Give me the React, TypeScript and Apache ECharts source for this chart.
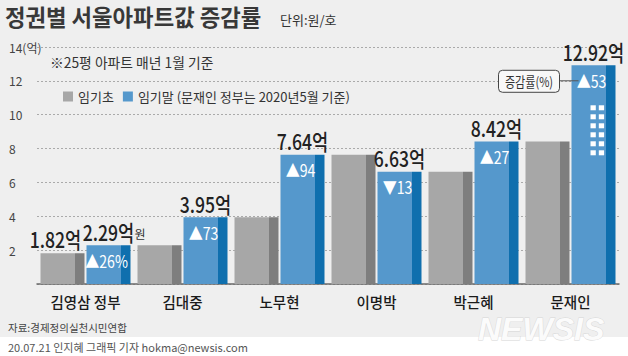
import React, { useEffect, useRef } from "react";
import * as echarts from "echarts";

// ---- data ----
const categories = ["김영삼 정부", "김대중", "노무현", "이명박", "박근혜", "문재인"];
const startName = "임기초";
const endName = "임기말 (문재인 정부는 2020년5월 기준)";
const startValues = [1.82, 2.29, 3.95, 7.64, 6.63, 8.42];
const endValues = [2.29, 3.95, 7.64, 6.63, 8.42, 12.92];
const startValueLabels = ["1.82억", "", "", "", "", ""];
const endValueLabels = ["2.29억", "3.95억", "7.64억", "6.63억", "8.42억", "12.92억"];
const changeLabels = ["▲26%", "▲73", "▲94", "▼13", "▲27", "▲53"];
const yAxisLabels = ["", "2", "4", "6", "8", "10", "12", "14(억)"];

const KR = '"Noto Sans CJK KR", "Noto Sans", sans-serif';
const BAR_W = 44;
const BAR_GAP = 2;
const HALF = (BAR_W + BAR_GAP) / 2;

const grayLight = "#a7a7a7";
const grayDark = "#7e7e7e";
const blueLight = "#5598cc";
const blueDark = "#0f6fae";

function stripe(light: string, dark: string) {
  return new echarts.graphic.LinearGradient(0, 0, 1, 0, [
    { offset: 0, color: light },
    { offset: 0.795, color: light },
    { offset: 0.795, color: dark },
    { offset: 1, color: dark },
  ]);
}

export default function App() {
  const ref = useRef<HTMLDivElement>(null);
  useEffect(() => {
    document.body.style.margin = "0";
    const chart = echarts.init(ref.current!, null, { renderer: "svg" });
    const option: any = {
      animation: false,
      backgroundColor: "#efefef",
      grid: { left: 37, right: 9, top: 47, bottom: 72, containLabel: false },
      legend: {
        left: 63,
        top: 90,
        padding: 0,
        icon: "rect",
        itemWidth: 10,
        itemHeight: 10,
        itemGap: 9,
        textStyle: { fontSize: 13, color: "#333", fontFamily: KR },
        data: [
          { name: startName, itemStyle: { color: grayLight } },
          { name: endName, itemStyle: { color: blueLight } },
        ],
      },
      xAxis: {
        type: "category",
        data: categories,
        axisLine: { lineStyle: { color: "#6a6a6a", width: 1.5 } },
        axisTick: { show: false },
        axisLabel: { fontSize: 14.5, fontWeight: 500, color: "#1a1a1a", margin: 10, fontFamily: KR },
      },
      yAxis: {
        type: "value",
        min: 0,
        max: 14,
        interval: 2,
        axisLine: { show: false },
        axisTick: { show: false },
        axisLabel: {
          formatter: (v: number) => yAxisLabels[Math.round(v / 2)] ?? "",
          align: "left",
          margin: 28,
          fontSize: 12,
          color: "#444",
          fontFamily: KR,
        },
        splitLine: { lineStyle: { color: "#aaaaaa", type: [2, 2], width: 1 } },
      },
      graphic: [
        {
          type: "text",
          x: 5,
          y: 16,
          scaleX: 0.97,
          style: {
            text: "정권별 서울아파트값 증감률",
            fontSize: 23,
            fontWeight: "bold",
            fill: "#383838",
            verticalAlign: "middle",
            fontFamily: KR,
          },
        },
        {
          type: "text",
          x: 280,
          y: 19,
          style: { text: "단위:원/호", fontSize: 13, fill: "#333", verticalAlign: "middle", fontFamily: KR },
        },
        {
          type: "text",
          x: 50,
          y: 62,
          style: { text: "※25평 아파트 매년 1월 기준", fontSize: 13.8, fill: "#333", verticalAlign: "middle", fontFamily: KR },
        },
        { type: "rect", shape: { x: 0, y: 337, width: 628, height: 19 }, style: { fill: "#ffffff" } },
        {
          type: "text",
          x: 8,
          y: 327,
          style: { text: "자료:경제정의실천시민연합", fontSize: 10.5, fill: "#444", verticalAlign: "middle", fontFamily: KR },
        },
        {
          type: "text",
          x: 8,
          y: 347,
          style: {
            text: "20.07.21 인지혜 그래픽 기자 hokma@newsis.com",
            fontSize: 11,
            fill: "#555",
            verticalAlign: "middle",
            fontFamily: KR,
          },
        },
        {
          type: "text",
          x: 478,
          y: 329,
          style: {
            text: "NEWSIS",
            fontSize: 32,
            fontWeight: "bold",
            fontStyle: "italic",
            fill: "#fbfbfb",
            stroke: "#d6d6d6",
            lineWidth: 0.8,
            verticalAlign: "middle",
            fontFamily: '"Liberation Sans", sans-serif',
          },
        },
      ],
      series: [
        {
          name: startName,
          type: "bar",
          data: startValues,
          barWidth: BAR_W,
          barGap: ((BAR_GAP / BAR_W) * 100).toFixed(2) + "%",
          itemStyle: { color: stripe(grayLight, grayDark) },
        },
        {
          name: endName,
          type: "bar",
          data: endValues,
          barWidth: BAR_W,
          itemStyle: { color: stripe(blueLight, blueDark) },
        },
        {
          type: "custom",
          name: "startLabels",
          silent: true,
          z: 5,
          data: startValues.map((v, i) => [i, v]),
          renderItem: (params: any, api: any) => {
            const i = api.value(0);
            const txt = startValueLabels[i];
            if (!txt) return null;
            const [cx, cy] = api.coord([i, api.value(1)]);
            return {
              type: "text",
              x: cx - HALF - 7,
              y: cy - 15,
              scaleX: 0.8,
              style: {
                text: txt,
                fontSize: 22,
                fontWeight: 500,
                fill: "#222",
                align: "center",
                verticalAlign: "middle",
                fontFamily: KR,
              },
            };
          },
        },
        {
          type: "custom",
          name: "endLabels",
          silent: true,
          z: 5,
          data: endValues.map((v, i) => [i, v]),
          renderItem: (params: any, api: any) => {
            const i = api.value(0);
            const [cx, cy] = api.coord([i, api.value(1)]);
            const x = cx + HALF;
            const children: any[] = [
              {
                type: "text",
                x,
                y: cy - 14,
                scaleX: 0.8,
                style: {
                  text: endValueLabels[i],
                  fontSize: 22,
                  fontWeight: 500,
                  fill: "#222",
                  align: "center",
                  verticalAlign: "middle",
                  fontFamily: KR,
                },
              },
              {
                type: "text",
                x: x - 2,
                y: cy + 15,
                scaleX: 0.83,
                style: {
                  text: changeLabels[i],
                  fontSize: 17,
                  fill: "#ffffff",
                  align: "center",
                  verticalAlign: "middle",
                  fontFamily: KR,
                },
              },
            ];
            if (i === 0) {
              children.push({
                type: "text",
                x: x + 26,
                y: cy - 12,
                style: { text: "원", fontSize: 12, fill: "#333", align: "left", verticalAlign: "middle", fontFamily: KR },
              });
            }
            if (i === categories.length - 1) {
              // callout
              children.push({
                type: "line",
                shape: { x1: x - 34, y1: cy + 15.5, x2: x - 15, y2: cy + 15.5 },
                style: { stroke: "#555", lineWidth: 1 },
              });
              children.push({
                type: "rect",
                shape: { x: x - 95, y: cy + 5, width: 61, height: 22, r: 4 },
                style: { fill: "#f8f8f8", stroke: "#444", lineWidth: 1 },
              });
              children.push({
                type: "text",
                x: x - 64.5,
                y: cy + 16,
                scaleX: 0.82,
                style: {
                  text: "증감률(%)",
                  fontSize: 13.5,
                  fill: "#333",
                  align: "center",
                  verticalAlign: "middle",
                  fontFamily: KR,
                },
              });
              // apartment windows
              for (let r = 0; r < 6; r++) {
                for (let c = 0; c < 2; c++) {
                  children.push({
                    type: "rect",
                    shape: { x: x - 3 + c * 8.3, y: cy + 40 + r * 9, width: 5.3, height: 5 },
                    style: { fill: "#ffffff" },
                  });
                }
              }
            }
            return { type: "group", children };
          },
        },
      ],
    };
    chart.setOption(option);
    return () => chart.dispose();
  }, []);
  return <div ref={ref} style={{ width: 628, height: 356 }} />;
}
